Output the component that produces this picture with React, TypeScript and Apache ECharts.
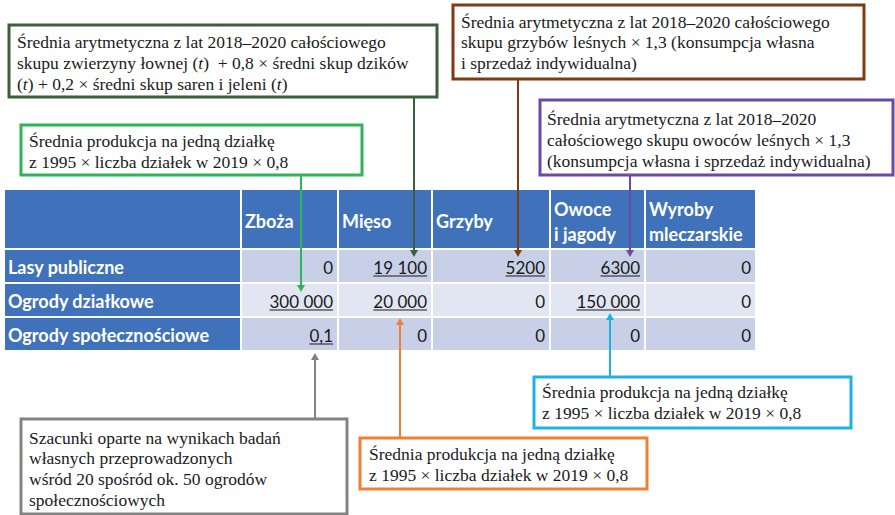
import React, { useEffect, useRef } from "react";
import * as echarts from "echarts";

// ---- Data ----
const columnHeaders = ["Zboża", "Mięso", "Grzyby", "Owoce\ni jagody", "Wyroby\nmleczarskie"];
const rowLabels = ["Lasy publiczne", "Ogrody działkowe", "Ogrody społecznościowe"];
const lasyPubliczne = [0, 19100, 5200, 6300, 0];
const ogrodyDzialkowe = [300000, 20000, 0, 150000, 0];
const ogrodySpolecznosciowe = [0.1, 0, 0, 0, 0];
const lasyUnderline = [false, true, true, true, false];
const dzialkoweUnderline = [true, true, false, true, false];
const spolecznoscioweUnderline = [true, false, false, false, false];

const noteMeat = [
  "Średnia arytmetyczna z lat 2018–2020 całościowego",
  "skupu zwierzyny łownej (t)  + 0,8 × średni skup dzików",
  "(t) + 0,2 × średni skup saren i jeleni (t)",
];
const noteGrainAllot = ["Średnia produkcja na jedną działkę", "z 1995 × liczba działek w 2019 × 0,8"];
const noteMushrooms = [
  "Średnia arytmetyczna z lat 2018–2020 całościowego",
  "skupu grzybów leśnych × 1,3 (konsumpcja własna",
  "i sprzedaż indywidualna)",
];
const noteFruitsForest = [
  "Średnia arytmetyczna z lat 2018–2020",
  "całościowego skupu owoców leśnych × 1,3",
  "(konsumpcja własna i sprzedaż indywidualna)",
];
const noteFruitsAllot = ["Średnia produkcja na jedną działkę", "z 1995 × liczba działek w 2019 × 0,8"];
const noteMeatAllot = ["Średnia produkcja na jedną działkę", "z 1995 × liczba działek w 2019 × 0,8"];
const noteCommunity = [
  "Szacunki oparte na wynikach badań",
  "własnych przeprowadzonych",
  "wśród 20 spośród ok. 50 ogrodów",
  "społecznościowych",
];

// ---- Layout (positions & styles) ----
const colEdges = [5, 241, 338, 432, 550, 645, 756];
const headerTop = 190;
const headerBottom = 248;
const rowEdges = [250, 284, 318, 352];
const headerColor = "#3F72BA";
const rowColors = ["#C7D0E7", "#E2E6F2", "#C7D0E7"];
const tableFont = "Lato";
const serifFont = "Liberation Serif";
const noteSize = 17.5;

function fmt(v: number): string {
  let s = String(v).replace(".", ",");
  if (Math.abs(v) >= 10000) {
    const [intPart, dec] = s.split(",");
    const grouped = intPart.replace(/\B(?=(\d{3})+(?!\d))/g, " ");
    s = dec ? grouped + "," + dec : grouped;
  }
  return s;
}

let measureCtx: CanvasRenderingContext2D | null = null;
function textWidth(text: string, font: string): number {
  if (!measureCtx) measureCtx = document.createElement("canvas").getContext("2d");
  if (!measureCtx) return text.length * 9;
  measureCtx.font = font;
  return measureCtx.measureText(text).width;
}

type Note = {
  lines: string[];
  color: string;
  box: [number, number, number, number];
  textX: number;
  firstY: number;
  arrowX: number;
  lineFrom: number;
  tip: number;
};

const notes: Note[] = [
  { lines: noteMeat, color: "#3C5E3A", box: [9, 25, 428, 72], textX: 17, firstY: 42, arrowX: 414, lineFrom: 97, tip: 257 },
  { lines: noteGrainAllot, color: "#2EB55B", box: [21, 125, 341, 50], textX: 29, firstY: 141, arrowX: 301, lineFrom: 175, tip: 292 },
  { lines: noteMushrooms, color: "#7E3A12", box: [453, 5, 411, 74], textX: 461, firstY: 21.5, arrowX: 518, lineFrom: 79, tip: 257 },
  { lines: noteFruitsForest, color: "#6B4AA6", box: [540, 100, 353, 75], textX: 547, firstY: 119, arrowX: 630, lineFrom: 175, tip: 257 },
  { lines: noteFruitsAllot, color: "#1FB1E4", box: [534, 377, 317, 51], textX: 542, firstY: 392, arrowX: 610, lineFrom: 377, tip: 313 },
  { lines: noteMeatAllot, color: "#EF7F36", box: [360, 438, 287, 51], textX: 369, firstY: 454, arrowX: 400, lineFrom: 438, tip: 318 },
  { lines: noteCommunity, color: "#838383", box: [21, 419, 326, 95], textX: 29, firstY: 437.5, arrowX: 315, lineFrom: 419, tip: 353 },
];

function toRich(line: string): string {
  return line
    .replace(/\(t\)/g, "{n|(}{i|t}{n|)}")
    .split(/(\{[ni]\|[^}]*\})/)
    .map((p) => (p === "" ? "" : p.startsWith("{") ? p : `{n|${p}}`))
    .join("");
}

export default function App() {
  const ref = useRef<HTMLDivElement>(null);
  useEffect(() => {
    if (!ref.current) return;
    const chart = echarts.init(ref.current, null, { renderer: "svg" });
    const els: any[] = [];
    const values = [lasyPubliczne, ogrodyDzialkowe, ogrodySpolecznosciowe];
    const unders = [lasyUnderline, dzialkoweUnderline, spolecznoscioweUnderline];
    const labelSize = 18;
    const valueSize = 17;

    // header
    for (let c = 0; c < colEdges.length - 1; c++) {
      const x0 = colEdges[c] + (c > 0 ? 1 : 0);
      const x1 = colEdges[c + 1] - 1;
      els.push({ type: "rect", shape: { x: x0, y: headerTop, width: x1 - x0, height: headerBottom - headerTop }, style: { fill: headerColor } });
      if (c > 0) {
        const label = columnHeaders[c - 1];
        els.push({
          type: "text",
          style: {
            text: label,
            x: x0 + 3,
            y: (headerTop + headerBottom) / 2 + 2,
            fill: "#ffffff",
            fontFamily: tableFont,
            fontSize: labelSize,
            fontWeight: "bold",
            lineHeight: 25,
            align: "left",
            verticalAlign: "middle",
            textAlign: "left",
            textVerticalAlign: "middle",
          },
        });
      }
    }
    // rows
    for (let r = 0; r < rowLabels.length; r++) {
      const y0 = rowEdges[r];
      const y1 = rowEdges[r + 1] - 2;
      const cy = (y0 + y1) / 2 + 1;
      for (let c = 0; c < colEdges.length - 1; c++) {
        const x0 = colEdges[c] + (c > 0 ? 1 : 0);
        const x1 = colEdges[c + 1] - 1;
        els.push({ type: "rect", shape: { x: x0, y: y0, width: x1 - x0, height: y1 - y0 }, style: { fill: c === 0 ? headerColor : rowColors[r] } });
        if (c === 0) {
          els.push({
            type: "text",
            style: { text: rowLabels[r], x: x0 + 3, y: cy, fill: "#ffffff", fontFamily: tableFont, fontSize: labelSize, fontWeight: "bold", align: "left", verticalAlign: "middle", textAlign: "left", textVerticalAlign: "middle" },
          });
        } else {
          const txt = fmt(values[r][c - 1]);
          els.push({
            type: "text",
            style: { text: txt, x: x1 - 4, y: cy, fill: "#1a1a1a", fontFamily: tableFont, fontSize: valueSize, align: "right", verticalAlign: "middle", textAlign: "right", textVerticalAlign: "middle" },
          });
          if (unders[r][c - 1]) {
            const w = textWidth(txt, `${valueSize}px ${tableFont}`);
            els.push({ type: "line", shape: { x1: x1 - 4 - w, y1: cy + 9, x2: x1 - 4, y2: cy + 9 }, style: { stroke: "#1a1a1a", lineWidth: 1 } });
          }
        }
      }
    }
    // notes
    for (const n of notes) {
      const [bx, by, bw, bh] = n.box;
      els.push({ type: "rect", shape: { x: bx, y: by, width: bw, height: bh }, style: { fill: "#ffffff", stroke: n.color, lineWidth: 3 } });
      n.lines.forEach((ln, i) => {
        const hasT = ln.includes("(t)");
        const base = { fill: "#1a1a1a", fontFamily: serifFont, fontSize: noteSize };
        els.push({
          type: "text",
          style: {
            text: hasT ? toRich(ln) : ln,
            x: n.textX,
            y: n.firstY + i * 20.8,
            ...base,
            rich: hasT ? { n: { ...base }, i: { ...base, fontStyle: "italic" } } : undefined,
            align: "left",
            verticalAlign: "middle",
            textAlign: "left",
            textVerticalAlign: "middle",
          },
        });
      });
      const down = n.tip > n.lineFrom;
      const headBase = down ? n.tip - 7 : n.tip + 7;
      els.push({ type: "line", shape: { x1: n.arrowX, y1: n.lineFrom, x2: n.arrowX, y2: headBase }, style: { stroke: n.color, lineWidth: 2 } });
      els.push({
        type: "polygon",
        shape: { points: [[n.arrowX - 4, headBase], [n.arrowX + 4, headBase], [n.arrowX, n.tip]] },
        style: { fill: n.color },
      });
    }

    chart.setOption({ animation: false, backgroundColor: "#ffffff", graphic: { elements: els } });
    return () => chart.dispose();
  }, []);
  return <div ref={ref} style={{ position: "fixed", left: 0, top: 0, width: 895, height: 515 }} />;
}
